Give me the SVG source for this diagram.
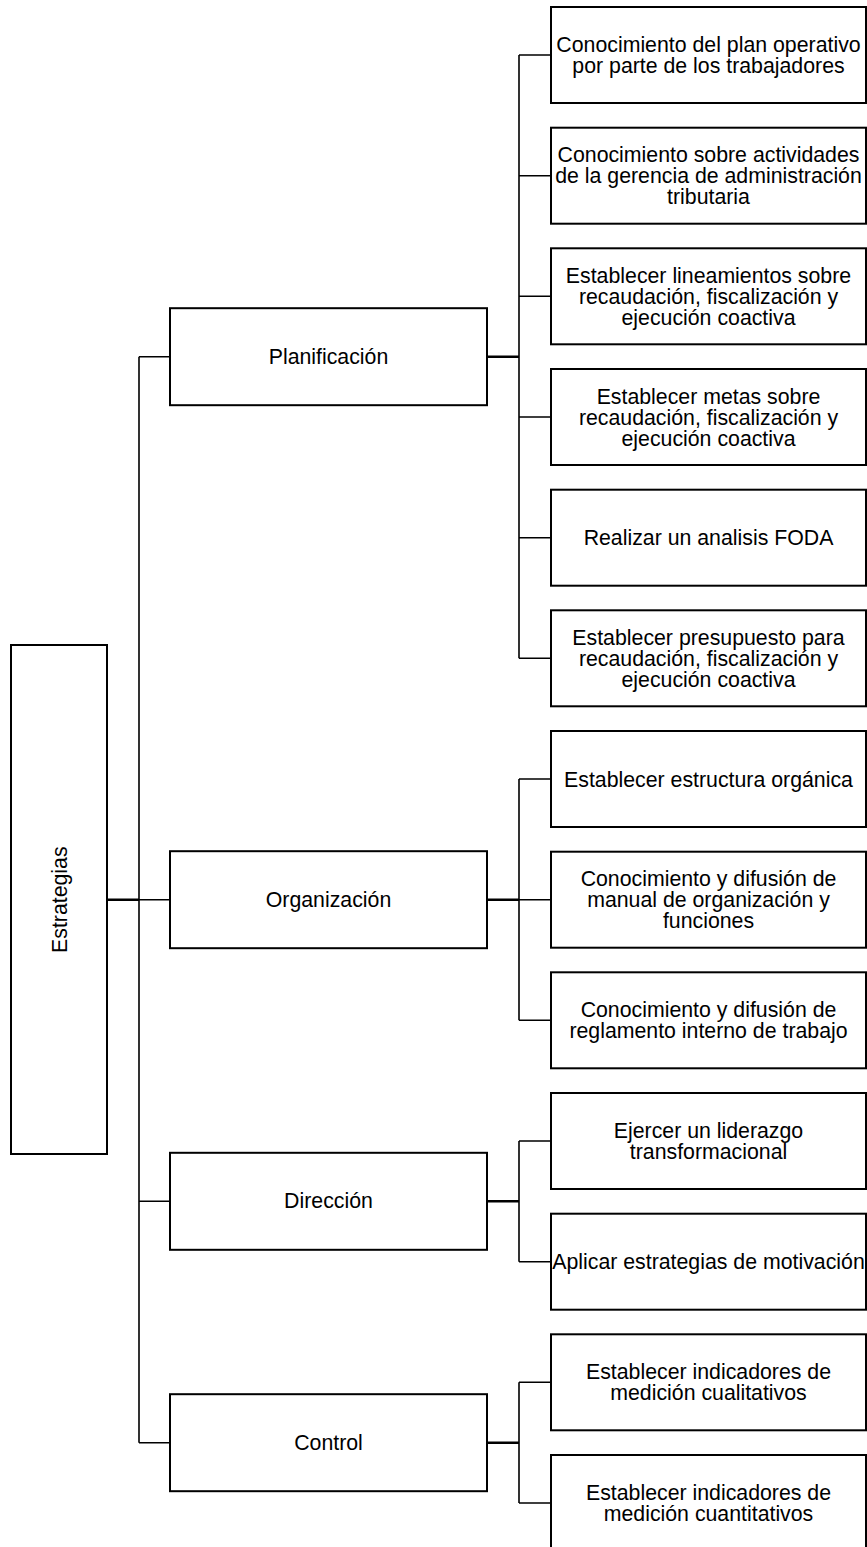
<svg xmlns="http://www.w3.org/2000/svg" width="867" height="1547" viewBox="0 0 867 1547">
<style>
.box{fill:#fff;stroke:#000;stroke-width:2}
.t{font-family:"Liberation Sans",Arial,sans-serif;font-size:21.3px;fill:#000;text-anchor:middle}
.c{fill:none;stroke:#000;stroke-width:1.6}
.c2{fill:none;stroke:#000;stroke-width:2.6}
</style>
<rect width="867" height="1547" fill="#fff"/>
<g id="connectors">
<path class="c" d="M139 356.7V1442.7M139 356.7H170M139 899.7H170M139 1201.3H170M139 1442.7H170"/>
<path class="c2" d="M107 899.7H139M487 356.7H519M487 899.7H519M487 1201.3H519M487 1442.7H519"/>
<path class="c" d="M519 55V658.3M519 55H551M519 175.7H551M519 296.3H551M519 417H551M519 537.7H551M519 658.3H551"/>
<path class="c" d="M519 779V1020.3M519 779H551M519 899.7H551M519 1020.3H551"/>
<path class="c" d="M519 1141V1261.7M519 1141H551M519 1261.7H551"/>
<path class="c" d="M519 1382.3V1503M519 1382.3H551M519 1503H551"/>
</g>
<g id="estrategias">
<rect class="box" x="11" y="645" width="96" height="509"/>
<text class="t" transform="translate(66.5 899.7) rotate(-90)" x="0" y="0">Estrategias</text>
</g>
<g id="planificacion">
<rect class="box" x="170" y="308.2" width="317" height="97"/>
<text class="t" x="328.5" y="363.7">Planificación</text>
</g>
<g id="organizacion">
<rect class="box" x="170" y="851.2" width="317" height="97"/>
<text class="t" x="328.5" y="906.7">Organización</text>
</g>
<g id="direccion">
<rect class="box" x="170" y="1152.8" width="317" height="97"/>
<text class="t" x="328.5" y="1208.3">Dirección</text>
</g>
<g id="control">
<rect class="box" x="170" y="1394.2" width="317" height="97"/>
<text class="t" x="328.5" y="1449.7">Control</text>
</g>
<g id="p1">
<rect class="box" x="551" y="7" width="315" height="96"/>
<text class="t" x="708.5" y="52"><tspan x="708.5">Conocimiento del plan operativo</tspan><tspan x="708.5" dy="21">por parte de los trabajadores</tspan></text>
</g>
<g id="p2">
<rect class="box" x="551" y="127.7" width="315" height="96"/>
<text class="t" x="708.5" y="162.2"><tspan x="708.5">Conocimiento sobre actividades</tspan><tspan x="708.5" dy="21">de la gerencia de administración</tspan><tspan x="708.5" dy="21">tributaria</tspan></text>
</g>
<g id="p3">
<rect class="box" x="551" y="248.3" width="315" height="96"/>
<text class="t" x="708.5" y="282.8"><tspan x="708.5">Establecer lineamientos sobre</tspan><tspan x="708.5" dy="21">recaudación, fiscalización y</tspan><tspan x="708.5" dy="21">ejecución coactiva</tspan></text>
</g>
<g id="p4">
<rect class="box" x="551" y="369" width="315" height="96"/>
<text class="t" x="708.5" y="403.5"><tspan x="708.5">Establecer metas sobre</tspan><tspan x="708.5" dy="21">recaudación, fiscalización y</tspan><tspan x="708.5" dy="21">ejecución coactiva</tspan></text>
</g>
<g id="p5">
<rect class="box" x="551" y="489.7" width="315" height="96"/>
<text class="t" x="708.5" y="545.2">Realizar un analisis FODA</text>
</g>
<g id="p6">
<rect class="box" x="551" y="610.3" width="315" height="96"/>
<text class="t" x="708.5" y="644.8"><tspan x="708.5">Establecer presupuesto para</tspan><tspan x="708.5" dy="21">recaudación, fiscalización y</tspan><tspan x="708.5" dy="21">ejecución coactiva</tspan></text>
</g>
<g id="o1">
<rect class="box" x="551" y="731" width="315" height="96"/>
<text class="t" x="708.5" y="786.5">Establecer estructura orgánica</text>
</g>
<g id="o2">
<rect class="box" x="551" y="851.7" width="315" height="96"/>
<text class="t" x="708.5" y="886.2"><tspan x="708.5">Conocimiento y difusión de</tspan><tspan x="708.5" dy="21">manual de organización y</tspan><tspan x="708.5" dy="21">funciones</tspan></text>
</g>
<g id="o3">
<rect class="box" x="551" y="972.3" width="315" height="96"/>
<text class="t" x="708.5" y="1017.3"><tspan x="708.5">Conocimiento y difusión de</tspan><tspan x="708.5" dy="21">reglamento interno de trabajo</tspan></text>
</g>
<g id="d1">
<rect class="box" x="551" y="1093" width="315" height="96"/>
<text class="t" x="708.5" y="1138"><tspan x="708.5">Ejercer un liderazgo</tspan><tspan x="708.5" dy="21">transformacional</tspan></text>
</g>
<g id="d2">
<rect class="box" x="551" y="1213.7" width="315" height="96"/>
<text class="t" x="708.5" y="1269.2">Aplicar estrategias de motivación</text>
</g>
<g id="c1">
<rect class="box" x="551" y="1334.3" width="315" height="96"/>
<text class="t" x="708.5" y="1379.3"><tspan x="708.5">Establecer indicadores de</tspan><tspan x="708.5" dy="21">medición cualitativos</tspan></text>
</g>
<g id="c2">
<rect class="box" x="551" y="1455" width="315" height="96"/>
<text class="t" x="708.5" y="1500"><tspan x="708.5">Establecer indicadores de</tspan><tspan x="708.5" dy="21">medición cuantitativos</tspan></text>
</g>
</svg>
